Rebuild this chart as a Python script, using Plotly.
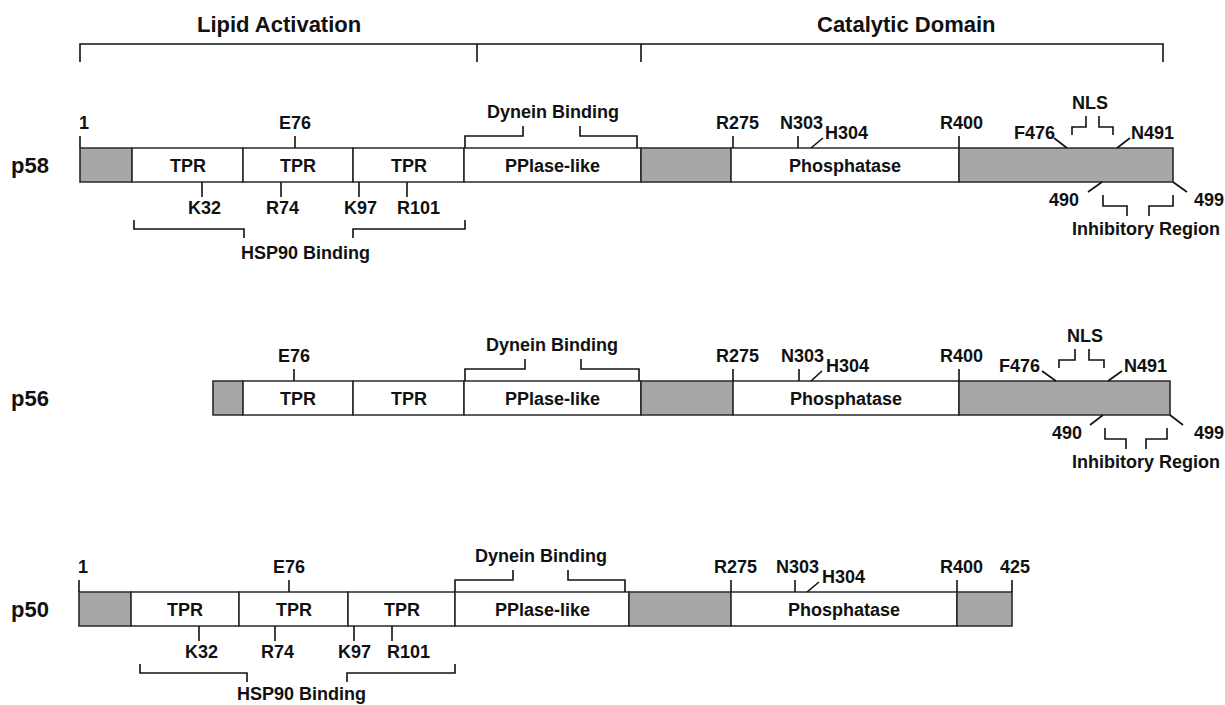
import plotly.graph_objects as go

# ---------------- data (diagram coordinates) ----------------
proteins = ["p58", "p56", "p50"]
bar_top = [148, 381, 592]
bar_height = 34

# header brackets
header_ticks = [80, 477, 641, 1163]
header_titles = ["Lipid Activation", "Catalytic Domain"]
header_title_x = [279, 906]

# domain segments (boundaries) and names ("" = grey linker)
p58_bounds = [80, 132, 243, 353, 464, 641, 731, 959, 1173]
p58_domains = ["", "TPR", "TPR", "TPR", "PPlase-like", "", "Phosphatase", ""]
p56_bounds = [213, 243, 353, 464, 641, 733, 959, 1170]
p56_domains = ["", "TPR", "TPR", "PPlase-like", "", "Phosphatase", ""]
p50_bounds = [79, 131, 239, 348, 455, 629, 731, 957, 1012]
p50_domains = ["", "TPR", "TPR", "TPR", "PPlase-like", "", "Phosphatase", ""]

# residue sites: label, position on bar, end of tick, label x, side
p58_site_labels = ["1", "E76", "R275", "N303", "H304", "R400", "F476", "N491",
                   "K32", "R74", "K97", "R101", "490", "499"]
p58_site_x = [80, 295, 733, 798, 811, 959, 1067, 1117, 202, 281, 359, 407, 1102, 1173]
p58_site_end = [80, 295, 733, 798, 823, 959, 1054, 1130, 202, 281, 359, 407, 1088, 1187]
p58_site_text_x = [84, 295, 737, 801, 846, 961, 1034, 1152, 204, 282, 360, 418, 1064, 1209]
p58_site_side = ["up"] * 8 + ["down"] * 6

p56_site_labels = ["E76", "R275", "N303", "H304", "R400", "F476", "N491", "490", "499"]
p56_site_x = [294, 733, 799, 811, 959, 1056, 1108, 1103, 1170]
p56_site_end = [294, 733, 799, 822, 959, 1042, 1122, 1090, 1183]
p56_site_text_x = [294, 737, 802, 847, 961, 1019, 1145, 1067, 1209]
p56_site_side = ["up"] * 7 + ["down"] * 2

p50_site_labels = ["1", "E76", "R275", "N303", "H304", "R400", "425",
                   "K32", "R74", "K97", "R101"]
p50_site_x = [79, 289, 731, 795, 807, 957, 1012, 199, 275, 354, 392]
p50_site_end = [79, 289, 731, 795, 819, 957, 1012, 199, 275, 354, 392]
p50_site_text_x = [83, 289, 735, 797, 843, 961, 1015, 201, 277, 354, 408]
p50_site_side = ["up"] * 7 + ["down"] * 4

# region brackets: [outer-left, inner-left, inner-right, outer-right], label x
dynein_x = [[465, 523, 580, 637], [465, 525, 581, 639], [455, 513, 568, 625]]
dynein_text_x = [553, 552, 541]
hsp90_x = [[134, 244, 353, 465], None, [140, 247, 347, 455]]
hsp90_text_x = [305, None, 301]
nls_x = [[1072, 1086, 1099, 1113], [1059, 1075, 1089, 1104], None]
nls_text_x = [1090, 1085, None]
inhib_x = [[1103, 1127, 1149, 1173], [1105, 1126, 1146, 1167], None]
inhib_text_x = [1146, 1146, None]

bounds = [p58_bounds, p56_bounds, p50_bounds]
domains = [p58_domains, p56_domains, p50_domains]
site_labels = [p58_site_labels, p56_site_labels, p50_site_labels]
site_x = [p58_site_x, p56_site_x, p50_site_x]
site_end = [p58_site_end, p56_site_end, p50_site_end]
site_text_x = [p58_site_text_x, p56_site_text_x, p50_site_text_x]
site_side = [p58_site_side, p56_site_side, p50_site_side]

# ---------------- styling ----------------
W, H = 1225, 705
FONT = "Liberation Sans, Arial, Helvetica, sans-serif"
INK = "#111111"
GREY = "#a7a7a7"
OUTLINE = "#2a2a2a"
LW = 1.6

fig = go.Figure()
shapes = []
annotations = []
lx, ly = [], []


def seg(points):
    for px, py in points:
        lx.append(px)
        ly.append(py)
    lx.append(None)
    ly.append(None)


def label(x, y, text, size=18):
    y = min(y, H - 11)
    annotations.append(dict(x=x, y=y, xref="x", yref="y", text=text, showarrow=False,
                            xanchor="center", yanchor="middle",
                            font=dict(family=FONT, size=size, color=INK, weight="bold")))


# header
seg([(header_ticks[0], 62), (header_ticks[0], 44), (header_ticks[-1], 44), (header_ticks[-1], 62)])
for t in header_ticks[1:-1]:
    seg([(t, 44), (t, 62)])
for tx, tt in zip(header_title_x, header_titles):
    label(tx, 24, tt, 22)


def bracket(xs, y_out, y_h, y_in):
    o1, i1, i2, o2 = xs
    seg([(o1, y_out), (o1, y_h), (i1, y_h), (i1, y_in)])
    seg([(i2, y_in), (i2, y_h), (o2, y_h), (o2, y_out)])


for r, name in enumerate(proteins):
    top = bar_top[r]
    bot = top + bar_height
    mid = (top + bot) / 2
    label(30, mid, name, 22)

    b = bounds[r]
    for i, dname in enumerate(domains[r]):
        shapes.append(dict(type="rect", xref="x", yref="y", x0=b[i], x1=b[i + 1], y0=top, y1=bot,
                           fillcolor=GREY if dname == "" else "white",
                           line=dict(color=OUTLINE, width=LW), layer="below"))
        if dname:
            label((b[i] + b[i + 1]) / 2, mid + 1, dname, 18)

    for lab, x0, x1, tx, side in zip(site_labels[r], site_x[r], site_end[r],
                                     site_text_x[r], site_side[r]):
        diag = x0 != x1
        if side == "up":
            if diag:
                seg([(x0, top), (x1, top - 10)])
                label(tx, top - 15, lab)
            else:
                seg([(x0, top), (x0, top - 12)])
                label(tx, top - 25, lab)
        else:
            if diag:
                seg([(x0, bot), (x1, bot + 10)])
                label(tx, bot + 18, lab)
            else:
                seg([(x0, bot), (x0, bot + 15)])
                label(tx, bot + 26, lab)

    if dynein_x[r]:
        bracket(dynein_x[r], top, top - 12, top - 22)
        label(dynein_text_x[r], top - 36, "Dynein Binding")
    if hsp90_x[r]:
        bracket(hsp90_x[r], bot + 38, bot + 47, bot + 56)
        label(hsp90_text_x[r], bot + 71, "HSP90 Binding")
    if nls_x[r]:
        bracket(nls_x[r], top - 13, top - 21, top - 32)
        label(nls_text_x[r], top - 45, "NLS")
    if inhib_x[r]:
        bracket(inhib_x[r], bot + 13, bot + 24, bot + 34)
        label(inhib_text_x[r], bot + 47, "Inhibitory Region")

fig.add_trace(go.Scatter(x=lx, y=ly, mode="lines", line=dict(color=INK, width=LW),
                         hoverinfo="skip", showlegend=False))

fig.update_layout(
    width=W, height=H, autosize=False,
    margin=dict(l=0, r=0, t=0, b=0),
    paper_bgcolor="white", plot_bgcolor="white",
    shapes=shapes, annotations=annotations,
    xaxis=dict(range=[0, W], visible=False, fixedrange=True),
    yaxis=dict(range=[H, 0], visible=False, fixedrange=True),
    showlegend=False,
)

fig.write_html("out.html", config={"displayModeBar": False},
               post_script="document.body.style.margin='0';document.body.style.overflow='hidden';")
